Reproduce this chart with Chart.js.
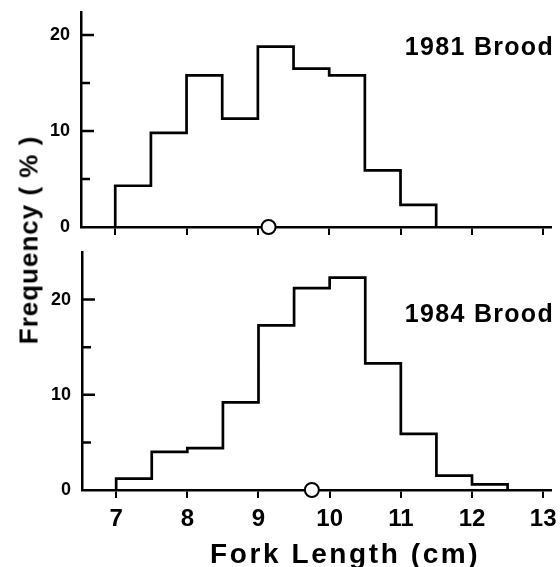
<!DOCTYPE html>
<html>
<head>
<meta charset="utf-8">
<title>Fork length frequency</title>
<script src="https://cdn.jsdelivr.net/npm/chart.js@4.4.1/dist/chart.umd.min.js"></script>
<style>
  html, body { margin: 0; padding: 0; background: #fff; }
  #wrap { position: relative; width: 560px; height: 567px; overflow: hidden; }
  canvas { position: absolute; left: 0; }
  #topChart { top: 0; }
  #bottomChart { top: 240px; }
  #yTitle {
    position: absolute; left: 29px; top: 240px;
    transform: translate(-50%, -50%) rotate(-90deg);
    font: bold 26px "Liberation Sans", Arial, sans-serif;
    letter-spacing: 1px; white-space: nowrap; color: #000;
  }
</style>
</head>
<body>
<div id="wrap">
  <canvas id="topChart" width="560" height="240"></canvas>
  <canvas id="bottomChart" width="560" height="327"></canvas>
  <div id="yTitle">Frequency ( % )</div>
</div>
<script>
document.addEventListener('DOMContentLoaded', () => {
    // bin lower edges (cm) and % frequency
    const binWidth = 0.5;
    const bins1981 = [7, 7.5, 8, 8.5, 9, 9.5, 10, 10.5, 11];
    const freq1981 = [4.3, 9.8, 15.8, 11.3, 18.8, 16.5, 15.8, 5.9, 2.3];
    const mean1981 = 9.15;

    const bins1984 = [7, 7.5, 8, 8.5, 9, 9.5, 10, 10.5, 11, 11.5, 12];
    const freq1984 = [1.2, 4.0, 4.4, 9.2, 17.3, 21.2, 22.3, 13.3, 5.9, 1.5, 0.6];
    const mean1984 = 9.75;

    const xTicks = [7, 8, 9, 10, 11, 12, 13];
    const yLabelTicks = [0, 10, 20];
    const yMinorTicks = [5, 15];

    const FONT = '"Liberation Sans", Arial, sans-serif';

    // outline of the histogram: each point is the right edge of a bin
    function stepPoints(starts, values) {
        const pts = [{ x: starts[0], y: 0 }];
        starts.forEach((s, i) => pts.push({ x: s + binWidth, y: values[i] }));
        pts.push({ x: starts[starts.length - 1] + binWidth, y: 0 });
        return pts;
    }

    const decor = {
        id: 'decor',
        afterDraw(chart, args, opts) {
            const { ctx, chartArea, scales } = chart;
            const y = scales.y;
            ctx.save();
            // inward y ticks
            ctx.strokeStyle = '#000';
            ctx.lineWidth = 2.5;
            ctx.beginPath();
            yLabelTicks.filter(v => v > 0).forEach(v => {
                const py = y.getPixelForValue(v);
                ctx.moveTo(chartArea.left, py);
                ctx.lineTo(chartArea.left + 13, py);
            });
            yMinorTicks.forEach(v => {
                const py = y.getPixelForValue(v);
                ctx.moveTo(chartArea.left, py);
                ctx.lineTo(chartArea.left + 9, py);
            });
            ctx.stroke();

            ctx.fillStyle = '#000';
            ctx.font = 'bold 25px ' + FONT;
            ctx.letterSpacing = '1.3px';
            ctx.textAlign = 'right';
            ctx.textBaseline = 'alphabetic';
            ctx.fillText(opts.label, chartArea.right + 3, chartArea.top + opts.labelOffset);

            if (opts.xTitle) {
                ctx.font = 'bold 28px ' + FONT;
                ctx.letterSpacing = '2.6px';
                ctx.textAlign = 'left';
                ctx.fillText(opts.xTitle, 210, chart.height - 4);
            }
            ctx.restore();
        }
    };

    function makePanel(canvasId, p) {
        return new Chart(document.getElementById(canvasId), {
            type: 'scatter',
            data: {
                datasets: [{
                    data: stepPoints(p.bins, p.freq),
                    showLine: true,
                    stepped: 'after',
                    borderColor: '#000',
                    borderWidth: 2.7,
                    pointRadius: 0,
                    fill: false,
                    clip: false
                }, {
                    data: [{ x: p.mean, y: 0 }],
                    pointRadius: 7,
                    pointBackgroundColor: '#fff',
                    pointBorderColor: '#000',
                    pointBorderWidth: 2,
                    clip: false
                }]
            },
            options: {
                responsive: false,
                animation: false,
                devicePixelRatio: 1,
                layout: { padding: { top: 12, right: 7, left: 0, bottom: 0 } },
                plugins: {
                    legend: { display: false },
                    tooltip: { enabled: false },
                    decor: { label: p.label, labelOffset: p.labelOffset, xTitle: p.xTitle }
                },
                scales: {
                    x: {
                        type: 'linear',
                        min: 6.52,
                        max: 13.11,
                        afterBuildTicks: s => { s.ticks = xTicks.map(v => ({ value: v })); },
                        afterFit: s => {
                            s.height = p.xHeight;
                            s.paddingLeft = 0;
                            s.paddingRight = 0;
                        },
                        grid: { drawOnChartArea: false, drawTicks: true, tickLength: 8, color: '#000', lineWidth: 2 },
                        border: { color: '#000', width: 2.5 },
                        ticks: {
                            display: p.showX,
                            color: '#000',
                            font: { family: FONT, size: 24, weight: 'bold' },
                            padding: 7,
                            maxRotation: 0,
                            autoSkip: false
                        }
                    },
                    y: {
                        min: 0,
                        max: p.yMax,
                        afterBuildTicks: s => { s.ticks = yLabelTicks.map(v => ({ value: v })); },
                        afterFit: s => {
                            s.width = p.yWidth;
                            s.paddingTop = 0;
                            s.paddingBottom = 0;
                        },
                        grid: { display: false, drawTicks: false },
                        border: { color: '#000', width: 2.5 },
                        ticks: {
                            color: '#000',
                            font: { family: FONT, size: 18, weight: 'bold' },
                            padding: 11
                        }
                    }
                }
            },
            plugins: [decor]
        });
    }

    makePanel('topChart', {
        bins: bins1981, freq: freq1981, mean: mean1981,
        yMax: 22.4, yWidth: 81, xHeight: 13, showX: false,
        label: '1981 Brood', labelOffset: 43
    });

    makePanel('bottomChart', {
        bins: bins1984, freq: freq1984, mean: mean1984,
        yMax: 25, yWidth: 82, xHeight: 77, showX: true,
        label: '1984 Brood', labelOffset: 70, xTitle: 'Fork Length (cm)'
    });
});
</script>
</body>
</html>
